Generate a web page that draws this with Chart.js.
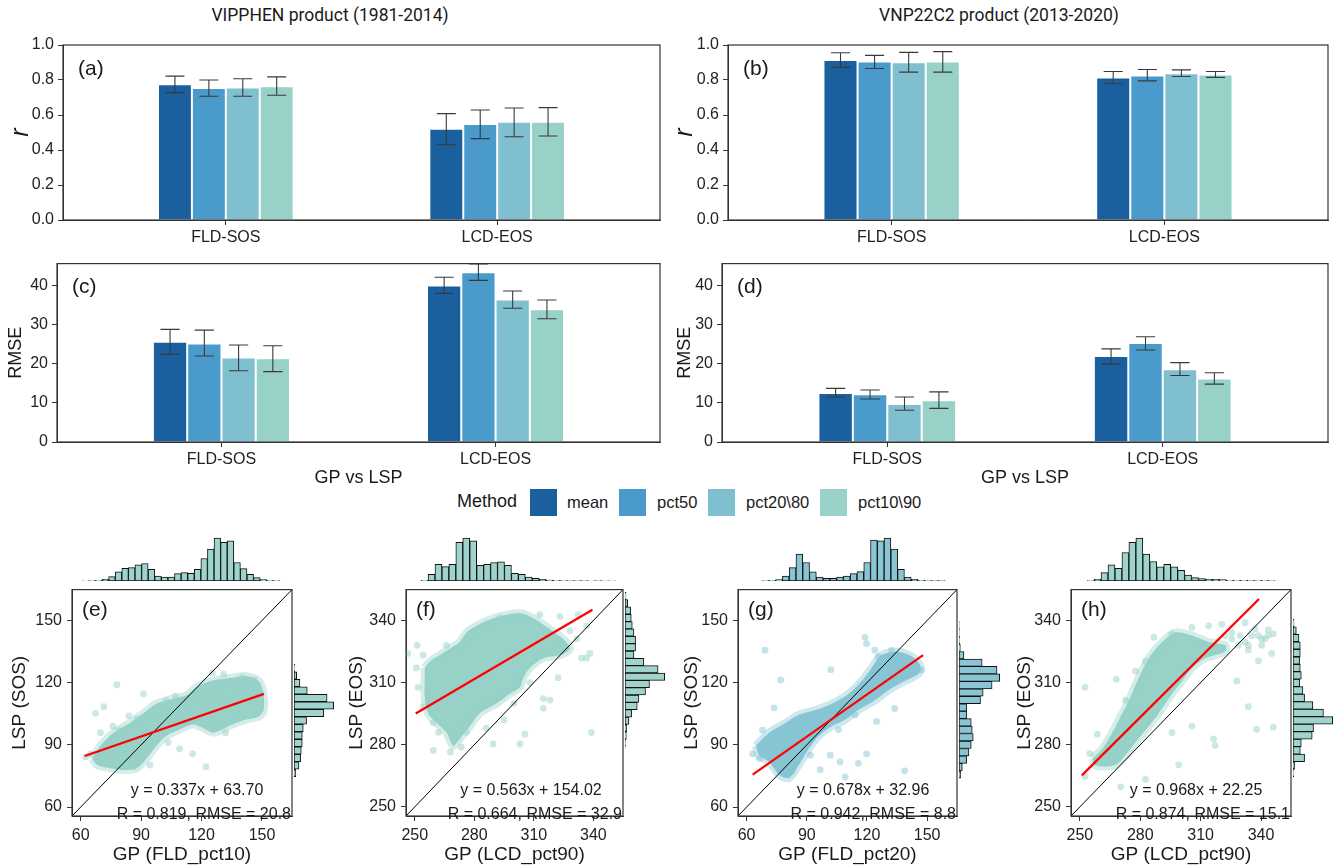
<!DOCTYPE html>
<html>
<head>
<meta charset="utf-8">
<script src="https://cdn.jsdelivr.net/npm/chart.js@4.4.1/dist/chart.umd.min.js"></script>
<style>
body { margin: 0; background: #fff; }
#wrap { position: relative; width: 1333px; height: 866px; overflow: hidden; font-family: "Liberation Sans", Arial, sans-serif; color: #1a1a1a; }
canvas { position: absolute; }
.t { position: absolute; white-space: nowrap; }
.sq { position: absolute; width: 27px; height: 27px; top: 489px; }
</style>
</head>
<body>
<div id="wrap">
  <div class="t" style="left:0;width:660px;top:5px;text-align:center;font:17.5px Roboto">VIPPHEN product (1981-2014)</div>
  <div class="t" style="left:665px;width:668px;top:5px;text-align:center;font:17.5px Roboto">VNP22C2 product (2013-2020)</div>
  <div class="t" style="left:457px;top:491px;font-size:18px">Method</div>
  <div class="sq" style="left:530px;background:#1a5f9e"></div>
  <div class="t" style="left:567px;top:493px;font-size:16.5px">mean</div>
  <div class="sq" style="left:619px;background:#4a9acb"></div>
  <div class="t" style="left:657px;top:493px;font-size:16.5px">pct50</div>
  <div class="sq" style="left:708px;background:#7fbfd0"></div>
  <div class="t" style="left:746px;top:493px;font-size:16.5px">pct20\80</div>
  <div class="sq" style="left:820px;background:#97d1c8"></div>
  <div class="t" style="left:858px;top:493px;font-size:16.5px">pct10\90</div>
</div>
<script>
// ---- bar panels ----
const groups = ['FLD-SOS', 'LCD-EOS'];
const methods = ['mean', 'pct50', 'pct20\\80', 'pct10\\90'];
const methodColors = ['#1a5f9e', '#4a9acb', '#7fbfd0', '#97d1c8'];

// one row per method: [FLD-SOS, LCD-EOS]
const rVip = [[0.776, 0.522], [0.755, 0.549], [0.757, 0.562], [0.765, 0.562]];
const rVipLo = [[0.728, 0.430], [0.707, 0.465], [0.707, 0.476], [0.713, 0.480]];
const rVipHi = [[0.822, 0.608], [0.800, 0.629], [0.807, 0.640], [0.818, 0.642]];
const rVnp = [[0.914, 0.815], [0.906, 0.826], [0.902, 0.839], [0.906, 0.832]];
const rVnpLo = [[0.872, 0.780], [0.866, 0.795], [0.845, 0.820], [0.845, 0.815]];
const rVnpHi = [[0.956, 0.849], [0.941, 0.860], [0.958, 0.858], [0.962, 0.849]];
const rmseVip = [[25.6, 40.0], [25.2, 43.4], [21.6, 36.4], [21.4, 33.9]];
const rmseVipLo = [[22.4, 38.0], [22.0, 41.3], [18.2, 34.2], [18.0, 31.5]];
const rmseVipHi = [[28.8, 42.1], [28.6, 45.5], [24.8, 38.6], [24.6, 36.3]];
const rmseVnp = [[12.5, 22.0], [12.2, 25.3], [9.7, 18.6], [10.7, 16.2]];
const rmseVnpLo = [[11.5, 19.9], [11.0, 23.5], [8.1, 17.0], [8.6, 14.8]];
const rmseVnpHi = [[13.7, 23.8], [13.3, 26.9], [11.5, 20.3], [12.8, 17.7]];
const rTicks = [0, 0.2, 0.4, 0.6, 0.8, 1.0];
const rmseTicks = [0, 10, 20, 30, 40];

// ---- scatter panels ----
const sosTicks = [60, 90, 120, 150];
const eosTicks = [250, 280, 310, 340];

// (e) GP FLD_pct10 vs LSP SOS
const eCloud = [[65.7,83.4],[69.8,89.6],[76.4,95.9],[84.5,100.6],[91.1,105.2],[97.6,109.9],[105.8,112.3],[112.4,113.8],[117.3,117.7],[122.2,120.1],[128.7,121.6],[135.3,122.4],[141.8,123.2],[148.4,120.8],[150.8,114.6],[150.8,106.8],[148.4,103.7],[141.8,102.1],[135.3,99.8],[128.7,96.7],[125.4,95.9],[120.5,98.3],[115.6,99.8],[109.1,97.4],[102.5,94.3],[97.6,89.6],[92.7,83.4],[87.8,78.7],[81.3,77.9],[74.7,78.7],[68.2,80.3]];
const ePts = [[78.0,119.0],[91.1,114.6],[71.5,108.4],[67.4,105.2],[64.9,85.7],[62.5,84.2],[115.6,85.7],[122.2,79.5],[109.1,88.1],[103.4,91.2],[96.0,105.2],[81.3,92.8],[86.2,79.5],[125.4,124.7],[140.2,122.7],[118.9,116.2],[131.9,95.9],[149.2,109.1],[94.4,80.3],[74.7,81.8],[69.8,95.9],[102.5,111.5],[110.8,105.2],[122.2,108.4],[135.3,108.4],[145.1,111.5],[84.0,104.0],[99.0,96.0],[106.0,101.0],[113.0,108.0],[127.0,113.0],[139.0,118.0],[146.0,121.5],[73.0,86.0],[79.0,97.0],[88.0,102.5],[76.0,99.0],[107.0,113.5],[131.0,124.0]];
const eFit = [[62, 84.6], [151, 114.6]];
const eTopCounts = [0.5,1,2,5,13,27,38,40,48,52,35,15,12,12,22,25,23,35,67,95,128,115,120,55,37,20,10,4,2,1];
const eRightCounts = [5,15,20,22,25,25,28,38,90,120,100,40,18,8,2];

// (f) GP LCD_pct90 vs LSP EOS
const fCloud = [[255.0,317.1],[257.6,320.2],[262.6,323.3],[267.7,326.4],[272.7,329.6],[276.1,334.2],[281.1,337.4],[287.8,340.5],[296.3,342.8],[304.7,343.3],[310.8,340.5],[318.1,335.8],[324.8,331.1],[328.2,326.4],[323.2,323.3],[314.8,321.8],[308.0,317.1],[304.7,312.4],[303.0,307.7],[297.9,304.6],[291.2,299.9],[282.8,295.2],[277.8,289.0],[272.7,282.8],[269.3,279.6],[266.0,285.9],[260.9,290.6],[256.7,295.2],[255.0,303.0],[255.0,310.8]];
const fPts = [[246.5,324.1],[251.2,328.0],[250.8,317.1],[251.7,307.7],[254.2,298.4],[259.3,290.6],[259.3,277.3],[271.0,284.3],[273.5,278.9],[289.5,280.4],[303.0,280.4],[305.5,285.1],[314.8,297.6],[318.1,301.5],[314.8,302.3],[322.2,312.4],[334.0,321.8],[336.5,321.8],[338.2,324.1],[339.0,285.9],[328.2,335.0],[331.6,331.1],[336.6,337.4],[313.0,342.8],[332.4,342.8],[323.1,342.0],[292.8,341.3],[284.4,337.4],[266.0,328.0],[254.2,323.3],[300.0,300.0],[308.0,310.0],[295.0,292.0],[286.0,288.0],[262.0,286.0],[268.0,276.5],[276.0,286.0]];
const fFit = [[250.5, 295.1], [339.5, 345.2]];
const fTopCounts = [2,20,50,43,50,115,128,120,47,50,55,57,47,23,20,12,8,5,3,2,1.5,1,1,1,0.5,1,0.5,0.5];
const fRightCounts = [2,4,5,12,20,37,42,62,74,120,100,57,27,32,32,27,22,19,17,8,3];

// (g) GP FLD_pct20 vs LSP SOS
const gCloud = [[64.6,89.6],[71.2,95.9],[79.4,100.6],[86.0,104.5],[94.3,106.8],[102.5,109.9],[110.8,114.6],[117.4,120.8],[122.3,127.1],[127.2,133.3],[135.5,134.9],[143.7,131.8],[147.0,127.1],[145.4,124.0],[138.8,120.8],[130.5,116.2],[124.0,111.5],[115.7,106.8],[109.1,102.1],[102.5,99.0],[95.9,94.3],[91.0,88.1],[86.0,80.3],[81.1,74.0],[76.2,75.6],[71.2,81.8],[66.3,84.9]];
const gPts = [[69.2,135.7],[77.0,121.3],[73.7,107.9],[67.9,97.1],[63.0,85.7],[66.3,83.4],[76.2,89.6],[91.8,85.0],[96.7,78.0],[101.7,85.0],[106.6,81.8],[109.1,74.5],[115.7,81.1],[119.8,85.7],[124.8,101.3],[133.8,107.6],[138.8,77.5],[102.0,126.3],[119.0,141.9],[119.8,138.8],[123.9,135.7],[125.6,132.5],[132.2,135.7],[147.0,126.3],[114.1,104.5],[105.8,97.4],[87.7,95.9],[82.7,77.2],[79.4,80.3]];
const gFit = [[63, 75.7], [148, 133.3]];
const gTopCounts = [1,2,4,15,40,80,55,27,12,8,8,12,15,22,28,55,122,120,128,95,35,12,5,2,1,1,1];
const gRightCounts = [5,10,23,30,37,43,40,37,23,23,65,73,100,123,115,70,15,4,2,1,1];

// (h) GP LCD_pct90 vs LSP EOS
const hCloud = [[256.3,273.4],[261.2,278.1],[266.2,285.9],[269.4,292.1],[274.4,301.5],[279.3,312.4],[284.3,321.8],[290.9,329.6],[297.5,334.2],[305.7,332.7],[314.0,329.6],[322.2,328.0],[322.2,324.9],[312.3,321.8],[305.7,317.1],[300.8,310.8],[295.8,304.6],[289.2,295.2],[284.3,289.0],[277.7,281.2],[272.7,275.0],[267.8,270.3],[261.2,269.5],[257.1,270.3]];
const hPts = [[252.6,307.7],[252.6,264.8],[258.7,285.1],[254.9,275.7],[268.1,311.6],[271.1,290.6],[272.7,301.5],[277.7,315.5],[282.6,320.2],[286.8,331.9],[299.1,270.3],[270.3,259.7],[282.6,263.3],[295.8,285.9],[305.7,289.0],[316.4,282.8],[317.2,279.6],[328.0,310.8],[333.7,298.4],[337.8,287.4],[346.1,288.5],[338.7,320.5],[345.3,324.1],[314.0,337.4],[320.5,338.1],[332.1,338.9],[337.0,335.8],[343.6,335.5],[325.5,331.1],[333.7,328.0],[340.3,331.1],[305.7,336.6],[295.8,333.5],[322.2,332.7],[325.5,334.2],[329.6,332.7],[332.1,329.6],[335.4,332.7],[338.7,332.7],[342.0,331.1],[343.6,332.7],[346.1,333.5],[340.3,328.0],[333.7,325.7],[328.8,328.0]];
const hFit = [[251, 265.2], [339, 350.4]];
const hTopCounts = [1,5,25,48,38,85,115,128,80,58,42,50,42,32,18,10,7,5,5,4,2,2,2,2,1,2,1];
const hRightCounts = [2,5,35,22,25,58,62,120,92,60,35,30,20,25,22,20,22,22,18,10,3];

Chart.defaults.font.family = '"Liberation Sans", Arial, sans-serif';
Chart.defaults.color = '#1a1a1a';
Chart.defaults.animation = false;
Chart.defaults.events = [];
Chart.defaults.plugins.legend.display = false;
Chart.defaults.plugins.tooltip.enabled = false;

function canvasAt(left, top, w, h) {
  const c = document.createElement('canvas');
  c.width = w; c.height = h;
  c.style.left = left + 'px'; c.style.top = top + 'px';
  c.style.width = w + 'px'; c.style.height = h + 'px';
  document.getElementById('wrap').appendChild(c);
  return c.getContext('2d');
}

const boxPlugin = {
  id: 'box',
  afterDatasetsDraw(chart) {
    const a = chart.chartArea, ctx = chart.ctx;
    ctx.save();
    ctx.strokeStyle = '#333'; ctx.lineWidth = 1.2;
    ctx.strokeRect(a.left, a.top, a.right - a.left, a.bottom - a.top);
    ctx.restore();
  }
};

const errPlugin = {
  id: 'err',
  afterDatasetsDraw(chart, args, opts) {
    const ctx = chart.ctx, y = chart.scales.y;
    ctx.save();
    ctx.strokeStyle = '#3a3a3a'; ctx.lineWidth = 1.1;
    opts.lo.forEach((loRow, d) => {
      chart.getDatasetMeta(d).data.forEach((bar, i) => {
        const y1 = y.getPixelForValue(loRow[i]);
        const y2 = y.getPixelForValue(opts.hi[d][i]);
        const hw = bar.width * 0.28;
        ctx.beginPath();
        ctx.moveTo(bar.x, y1); ctx.lineTo(bar.x, y2);
        ctx.moveTo(bar.x - hw, y1); ctx.lineTo(bar.x + hw, y1);
        ctx.moveTo(bar.x - hw, y2); ctx.lineTo(bar.x + hw, y2);
        ctx.stroke();
      });
    });
    ctx.restore();
  }
};

const textPlugin = {
  id: 'notes',
  afterDraw(chart, args, opts) {
    const a = chart.chartArea, ctx = chart.ctx;
    (opts.items || []).forEach(t => {
      ctx.save();
      ctx.font = t.font;
      ctx.fillStyle = '#1a1a1a';
      ctx.textAlign = t.align || 'left';
      ctx.textBaseline = 'middle';
      ctx.fillText(t.text, t.dx >= 0 ? a.left + t.dx : a.right + t.dx, a.top + t.dy);
      ctx.restore();
    });
  }
};

const axisGrid = { drawOnChartArea: false, drawTicks: true, tickLength: 5, color: '#333', offset: false };
const axisBorder = { color: '#333', width: 1 };
const FONT = '"Liberation Sans", Arial, sans-serif';

function barPanel(ctx, vals, lo, hi, o) {
  return new Chart(ctx, {
    type: 'bar',
    data: {
      datasets: methods.map((m, d) => ({
        label: m,
        data: groups.map((g, i) => ({ x: i + 1, y: vals[d][i] })),
        backgroundColor: methodColors[d],
        borderColor: 'rgba(255,255,255,0.55)',
        borderWidth: 1,
        categoryPercentage: 0.5,
        barPercentage: 1
      }))
    },
    options: {
      responsive: false,
      devicePixelRatio: 1,
      layout: { padding: { top: o.padTop, right: o.padRight, left: 0, bottom: 0 } },
      scales: {
        x: {
          type: 'linear', min: 0.4, max: 2.6, offset: false,
          afterBuildTicks: s => { s.ticks = groups.map((g, i) => ({ value: i + 1 })); },
          ticks: { callback: v => groups[Math.round(v) - 1], font: { size: 16 }, color: '#222', padding: 3, maxRotation: 0, autoSkip: false },
          grid: axisGrid, border: axisBorder,
          title: o.xTitle ? { display: true, text: o.xTitle, font: { size: 18 }, color: '#1a1a1a', padding: { top: 0, bottom: 6 } } : { display: false },
          afterFit: s => { s.height = o.xH; }
        },
        y: {
          min: 0, max: o.yMax,
          afterBuildTicks: s => { s.ticks = o.yTicks.map(v => ({ value: v })); },
          ticks: { callback: o.yFmt, font: { size: 16 }, color: '#222', padding: 4 },
          grid: axisGrid, border: axisBorder,
          title: { display: true, text: o.yTitle, font: o.yFont, color: '#1a1a1a', padding: { top: o.yTitlePad, bottom: 0 } },
          afterFit: s => { s.width = o.yW; }
        }
      },
      plugins: {
        err: { lo: lo, hi: hi },
        notes: { items: [{ text: o.letter, dx: 15, dy: 24, font: '21px ' + FONT }] }
      }
    },
    plugins: [errPlugin, boxPlugin, textPlugin]
  });
}

const rFmt = v => v.toFixed(1);
const intFmt = v => String(v);
const rFont = { size: 25, style: 'italic' };
const rmseFont = { size: 18 };

barPanel(canvasAt(0, 30, 670, 230), rVip, rVipLo, rVipHi,
  { padTop: 15, padRight: 10, xH: 40, yW: 63, yMax: 1, yTicks: rTicks, yFmt: rFmt, yTitle: 'r', yFont: rFont, yTitlePad: 6, letter: '(a)' });
barPanel(canvasAt(665, 30, 668, 230), rVnp, rVnpLo, rVnpHi,
  { padTop: 15, padRight: 5, xH: 40, yW: 63, yMax: 1, yTicks: rTicks, yFmt: rFmt, yTitle: 'r', yFont: rFont, yTitlePad: 5, letter: '(b)' });
barPanel(canvasAt(0, 250, 670, 245), rmseVip, rmseVipLo, rmseVipHi,
  { padTop: 13, padRight: 10, xH: 53, yW: 57, yMax: 45.6, yTicks: rmseTicks, yFmt: intFmt, yTitle: 'RMSE', yFont: rmseFont, yTitlePad: 5, letter: '(c)', xTitle: 'GP vs LSP' });
barPanel(canvasAt(665, 250, 668, 245), rmseVnp, rmseVnpLo, rmseVnpHi,
  { padTop: 13, padRight: 5, xH: 53, yW: 57, yMax: 45.6, yTicks: rmseTicks, yFmt: intFmt, yTitle: 'RMSE', yFont: rmseFont, yTitlePad: 9, letter: '(d)', xTitle: 'GP vs LSP' });

function xy(list) { return list.map(p => ({ x: p[0], y: p[1] })); }

function scatterPanel(ctx, o) {
  return new Chart(ctx, {
    type: 'scatter',
    data: {
      datasets: [
        { data: xy(o.fit), showLine: true, borderColor: '#ff0000', borderWidth: 2.2, pointRadius: 0, order: 0 },
        { data: xy([[o.range[0], o.range[0]], [o.range[1], o.range[1]]]), showLine: true, borderColor: '#000', borderWidth: 1, pointRadius: 0, order: 1 },
        { data: xy(o.pts), pointRadius: 3.4, pointBackgroundColor: 'rgba(' + o.rgb + ',0.5)', pointBorderWidth: 0, order: 2 },
        { data: xy(o.cloud.concat([o.cloud[0]])), showLine: true, fill: 'shape', tension: 0.3,
          backgroundColor: 'rgb(' + o.rgb + ')', borderColor: 'rgba(' + o.rgb + ',0.4)', borderWidth: 8,
          borderJoinStyle: 'round', pointRadius: 0, order: 3 }
      ]
    },
    options: {
      responsive: false,
      devicePixelRatio: 1,
      layout: { padding: { top: 7, right: o.padRight, left: 0, bottom: 0 } },
      scales: {
        x: {
          type: 'linear', min: o.range[0], max: o.range[1],
          afterBuildTicks: s => { s.ticks = o.ticks.map(v => ({ value: v })); },
          ticks: { font: { size: 16 }, color: '#222', padding: 5, maxRotation: 0 },
          grid: axisGrid, border: axisBorder,
          title: { display: true, text: o.xTitle, font: { size: 19 }, color: '#1a1a1a', padding: { top: 0, bottom: 0 } },
          afterFit: s => { s.height = 50; }
        },
        y: {
          type: 'linear', min: o.range[0], max: o.range[1],
          afterBuildTicks: s => { s.ticks = o.ticks.map(v => ({ value: v })); },
          ticks: { font: { size: 16 }, color: '#222', padding: 5 },
          grid: axisGrid, border: axisBorder,
          title: { display: true, text: o.yTitle, font: { size: 19 }, color: '#1a1a1a', padding: { top: o.yTitlePad, bottom: 0 } },
          afterFit: s => { s.width = o.yW; }
        }
      },
      plugins: {
        notes: { items: [
          { text: o.letter, dx: 10, dy: 21, font: '21px ' + FONT },
          { text: o.eq, dx: 125, dy: 201, align: 'center', font: '16px ' + FONT },
          { text: o.stats, dx: -1, dy: 225, align: 'right', font: '16px ' + FONT }
        ] }
      }
    },
    plugins: [boxPlugin, textPlugin]
  });
}

function histTop(ctx, start, width, counts, range, color) {
  return new Chart(ctx, {
    type: 'bar',
    data: { datasets: [{
      data: counts.map((c, i) => ({ x: start + (i + 0.5) * width, y: c })),
      backgroundColor: color, borderColor: '#111', borderWidth: 1, borderSkipped: false,
      categoryPercentage: 1, barPercentage: 1
    }] },
    options: {
      responsive: false, devicePixelRatio: 1, layout: { padding: 0 },
      scales: {
        x: { type: 'linear', display: false, offset: false, min: range[0], max: range[1], afterBuildTicks: s => { s.ticks = [{ value: s.min }]; } },
        y: { display: false, min: 0, max: 137 }
      }
    }
  });
}

function histRight(ctx, start, width, counts, range, color) {
  return new Chart(ctx, {
    type: 'bar',
    data: { datasets: [{
      data: counts.map((c, i) => ({ y: start + (i + 0.5) * width, x: c })),
      backgroundColor: color, borderColor: '#111', borderWidth: 1, borderSkipped: false,
      categoryPercentage: 1, barPercentage: 1
    }] },
    options: {
      indexAxis: 'y',
      responsive: false, devicePixelRatio: 1, layout: { padding: 0 },
      scales: {
        y: { type: 'linear', display: false, offset: false, min: range[0], max: range[1], afterBuildTicks: s => { s.ticks = [{ value: s.min }]; } },
        x: { display: false, min: 0, max: 136 }
      }
    }
  });
}

const sosRange = [55.7, 164.9];
const eosRange = [245.6, 354.9];
const tealRgb = '151,209,200';
const blueRgb = '136,197,212';
const tealHist = '#9fd4cd';
const blueHist = '#8ac5d3';

const panels = [
  { canvasLeft: 0, w: 300, yW: 72, padRight: 8, yTitlePad: 8, range: sosRange, ticks: sosTicks, cloud: eCloud, pts: ePts, fit: eFit, rgb: tealRgb, hist: tealHist,
    letter: '(e)', eq: 'y = 0.337x + 63.70', stats: 'R = 0.819, RMSE = 20.8', xTitle: 'GP (FLD_pct10)', yTitle: 'LSP (SOS)',
    top: [60.8, 3.27, eTopCounts], right: [74.0, 3.5, eRightCounts] },
  { canvasLeft: 330, w: 300, yW: 76, padRight: 7, yTitlePad: 15, range: eosRange, ticks: eosTicks, cloud: fCloud, pts: fPts, fit: fFit, rgb: tealRgb, hist: tealHist,
    letter: '(f)', eq: 'y = 0.563x + 154.02', stats: 'R = 0.664, RMSE = 32.9', xTitle: 'GP (LCD_pct90)', yTitle: 'LSP (EOS)',
    top: [253.2, 3.5, fTopCounts], right: [278.1, 3.43, fRightCounts] },
  { canvasLeft: 660, w: 305, yW: 78, padRight: 8, yTitlePad: 20, range: sosRange, ticks: sosTicks, cloud: gCloud, pts: gPts, fit: gFit, rgb: blueRgb, hist: blueHist,
    letter: '(g)', eq: 'y = 0.678x + 32.96', stats: 'R = 0.942, RMSE = 8.8', xTitle: 'GP (FLD_pct20)', yTitle: 'LSP (SOS)',
    top: [67.7, 3.38, gTopCounts], right: [73.3, 3.48, gRightCounts] },
  { canvasLeft: 993, w: 305, yW: 78, padRight: 7, yTitlePad: 20, range: eosRange, ticks: eosTicks, cloud: hCloud, pts: hPts, fit: hFit, rgb: tealRgb, hist: tealHist,
    letter: '(h)', eq: 'y = 0.968x + 22.25', stats: 'R = 0.874, RMSE = 15.1', xTitle: 'GP (LCD_pct90)', yTitle: 'LSP (EOS)',
    top: [253.6, 3.46, hTopCounts], right: [264.0, 3.5, hRightCounts] }
];

panels.forEach(p => {
  scatterPanel(canvasAt(p.canvasLeft, 575, p.w, 291), p);
  const plotLeft = p.canvasLeft + p.yW;
  const plotRight = p.canvasLeft + p.w - p.padRight;
  histTop(canvasAt(plotLeft, 535, plotRight - plotLeft, 46), p.top[0], p.top[1], p.top[2], p.range, p.hist);
  histRight(canvasAt(plotRight + 2, 582, 45, 234), p.right[0], p.right[1], p.right[2], p.range, p.hist);
});
</script>
</body>
</html>
